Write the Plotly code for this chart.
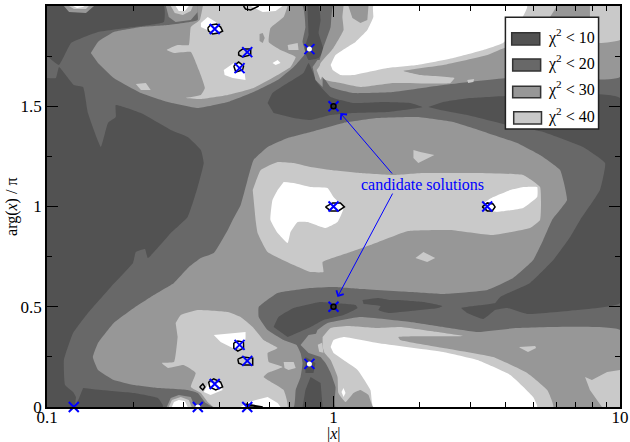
import plotly.graph_objects as go

# every contour polygon: (log10|x|, arg(x)/pi)
C_LT10 = "#525252"
C_LT20 = "#686868"
C_LT30 = "#979797"
C_LT40 = "#c9c9c9"
C_GT40 = "#ffffff"

band_lt10 = [
 [(-1,2),(-.592,2),(-.592,1.92),(-.697,1.895),(-.822,1.87),(-.916,1.815),(-.958,1.706),(-1,1.751)],
 [(-1,1.641),(-.969,1.641),(-.958,1.696),(-.906,1.606),(-.874,1.596),(-.857,1.466),(-.812,1.297),(-.787,1.417),(-.76,1.446),(-.76,1.506),(-.672,1.466),(-.568,1.382),(-.509,1.347),(-.463,1.282),(-.453,1.217),(-.474,1.097),(-.509,.948),(-.568,.868),(-.648,.743),(-.658,.788),(-.69,.773),(-.7,.718),(-.777,.599),(-.857,.469),(-.909,.369),(-.941,.234),(-.937,.11),(-.909,.075),(-.899,.05),(-.906,0),(-1,0)],
 [(-.874,.095),(-.812,.085),(-.697,.07),(-.613,.045),(-.596,.01),(-.596,0),(-.899,0),(-.888,.045)],
 [(-.091,2),(-.052,2),(-.045,1.93),(-.052,1.865),(-.035,1.781),(-.052,1.741),(-.087,1.731),(-.101,1.781),(-.087,1.855)],
 [(.331,1.496),(.383,1.521),(.477,1.541),(1,1.541),(1,.519),(.85,.484),(.676,.464),(.606,.494),(.564,.484),(.523,.439),(.467,.469),(.446,.494),(.488,.504),(.564,.519),(.582,.549),(.686,.619),(.767,.733),(.826,.848),(.861,.933),(.93,1.082),(.948,1.217),(.871,1.297),(.732,1.372),(.606,1.407),(.467,1.456),(.373,1.481)],
 [(-.23,1.516),(-.213,1.566),(-.16,1.616),(-.105,1.666),(-.087,1.716),(-.056,1.616),(-.01,1.546),(.07,1.516),(.174,1.521),(.268,1.516),(.31,1.496),(.188,1.471),(.07,1.466),(-.01,1.456),(-.08,1.431),(-.139,1.441),(-.209,1.466)],
 [(-.209,.399),(-.192,.449),(-.139,.494),(-.045,.524),(0,.519),(.077,.509),(.084,.494),(.035,.459),(-.035,.434),(-.08,.399),(-.16,.349)],
 [(.101,.534),(.153,.544),(.199,.534),(.226,.534),(.314,.524),(.38,.504),(.366,.494),(.268,.479),(.192,.469),(.157,.484),(.164,.504),(.105,.514)],
 [(-.08,.15),(-.045,.12),(-.038,0),(-.108,0),(-.098,.085)],
 [(-.098,.249),(-.063,.219),(-.07,.17),(-.098,.17)],
]

band_lt30 = [
 [(-.847,1.766),(-.822,1.821),(-.767,1.87),(-.672,1.895),(-.578,1.905),(-.474,1.93),(-.474,2),(-.108,2),(-.098,1.895),(-.108,1.821),(-.098,1.766),(-.139,1.696),(-.195,1.631),(-.279,1.571),(-.369,1.521),(-.474,1.491),(-.578,1.521),(-.672,1.566),(-.767,1.641),(-.822,1.716)],
 [(-.352,.933),(-.324,1.007),(-.3,1.132),(-.279,1.232),(-.23,1.297),(-.16,1.342),(-.08,1.372),(.035,1.417),(.153,1.441),(.293,1.446),(.418,1.421),(.537,1.367),(.641,1.317),(.721,1.257),(.791,1.182),(.815,1.032),(.763,.933),(.732,.833),(.697,.733),(.627,.643),(.537,.584),(.383,.564),(.268,.574),(.094,.589),(0,.599),(-.08,.594),(-.195,.569),(-.261,.499),(-.261,.449),(-.23,.384),(-.174,.334),(-.129,.309),(-.115,.269),(-.108,.219),(-.115,.15),(-.132,.085),(-.139,0),(-.418,0),(-.446,.02),(-.474,.07),(-.509,.085),(-.613,.095),(-.697,.11),(-.767,.135),(-.822,.185),(-.84,.249),(-.822,.319),(-.767,.419),(-.697,.494),(-.627,.559),(-.557,.619),(-.505,.698),(-.463,.743),(-.418,.768),(-.369,.883)],
 [(-.056,.384),(-.021,.419),(.094,.449),(.268,.424),(.383,.399),(.502,.374),(.641,.394),(1,.384),(1,0),(.007,0),(.007,.1),(-.01,.17),(-.028,.219),(-.056,.269),(-.073,.319)],
 [(-.056,1.696),(-.01,1.596),(.07,1.566),(.209,1.571),(.383,1.606),(.606,1.641),(1,1.646),(1,2),(0,2),(-.01,1.895),(-.035,1.796)],
 [(-.115,.309),(-.087,.359),(-.045,.369),(-.035,.309),(-.045,.249),(-.087,.269)],
 [(-.073,1.696),(-.056,1.731),(-.038,1.731),(-.038,1.596),(-.063,1.631)],
 [(-.585,2),(-.575,1.945),(-.551,1.92),(-.498,1.93),(-.474,1.97),(-.474,2)],
 [(-.941,2),(-.923,1.97),(-.864,1.965),(-.836,2)],
 [(-.582,0),(-.568,.045),(-.54,.06),(-.498,.05),(-.484,0)],
]

band_lt40 = [
 [(-.456,2),(-.467,1.93),(-.498,1.895),(-.505,1.805),(-.544,1.805),(-.582,1.781),(-.557,1.766),(-.498,1.771),(-.47,1.681),(-.449,1.591),(-.463,1.556),(-.516,1.541),(-.463,1.536),(-.369,1.556),(-.279,1.591),(-.195,1.656),(-.15,1.696),(-.132,1.746),(-.185,1.781),(-.226,1.821),(-.22,1.89),(-.174,1.945),(-.16,2)],
 [(-.551,.419),(-.533,.459),(-.474,.484),(-.369,.474),(-.324,.449),(-.282,.399),(-.244,.334),(-.195,.294),(-.23,.269),(-.226,.224),(-.178,.2),(-.23,.17),(-.244,.15),(-.174,.085),(-.16,0),(-.418,0),(-.439,.025),(-.463,.07),(-.498,.1),(-.481,.17),(-.523,.209),(-.578,.195),(-.599,.219),(-.557,.224),(-.544,.349)],
 [(-.282,1.082),(-.254,1.182),(-.195,1.222),(-.139,1.217),(-.08,1.197),(-.01,1.182),(.094,1.167),(.209,1.157),(.314,1.167),(.502,1.167),(.662,1.157),(.721,1.097),(.721,.933),(.686,.893),(.554,.858),(.408,.883),(.261,.878),(.129,.808),(.049,.768),(-.038,.723),(-.035,.673),(-.08,.673),(-.139,.708),(-.23,.773),(-.265,.868),(-.272,.933)],
 [(.035,2),(.031,1.945),(.035,1.88),(0,1.791),(-.045,1.716),(-.052,1.671),(-.028,1.631),(.024,1.616),(.094,1.596),(.209,1.616),(.408,1.616),(.422,1.641),(.303,1.656),(.244,1.676),(.383,1.706),(.537,1.756),(.606,1.796),(.93,1.815),(1,1.831),(1,2)],
 [(-.038,.349),(-.01,.394),(.049,.404),(.153,.394),(.233,.399),(.362,.374),(.453,.354),(.226,.349),(.233,.334),(.383,.294),(.557,.249),(.676,.17),(.746,.085),(.767,0),(.139,0),(.122,.06),(.094,.085),(.07,.07),(.042,.025),(.017,.07),(.014,.15),(-.01,.234),(-.031,.269),(-.038,.299)],
 [(-.69,1.611),(-.655,1.616),(-.638,1.581),(-.672,1.581)],
 [(-.16,1.805),(-.125,1.815),(-.122,1.781),(-.157,1.781)],
 [(-.174,.224),(-.139,.224),(-.132,.195),(-.157,.185),(-.171,.195)],
 [(.279,1.282),(.303,1.272),(.352,1.257),(.296,1.217),(.279,1.242)],
 [(.286,.743),(.314,.773),(.355,.743),(.327,.723)],
 [(.467,1.631),(.491,1.636),(.488,1.621),(.47,1.616)],
 [(.648,.299),(.704,.304),(.707,.294),(.679,.274),(.652,.294)],
 [(.878,.15),(.902,.135),(.955,.175),(1,.185),(1,0),(.937,0),(.895,.085)],
 [(-.568,2),(-.554,1.965),(-.526,1.955),(-.498,1.975),(-.491,2)],
 [(-.923,2),(-.906,1.985),(-.864,1.985),(-.854,2)],
 [(-.575,0),(-.564,.035),(-.533,.05),(-.505,.035),(-.495,0)],
 [(-.059,1.681),(-.045,1.706),(-.038,1.656),(-.045,1.631)],
 [(-.055,.31),(-.04,.32),(-.035,.27),(-.05,.275)],
]

holes_lt30 = [
 [(-.258,1.86),(-.247,1.865),(-.24,1.84),(-.247,1.815),(-.258,1.825)],
 [(.052,2),(.066,1.94),(.094,1.915),(.118,1.93),(.122,2)],
 [(.78,2),(.895,2),(.895,1.945),(.756,1.945)],
]

band_gt40 = [
 [(-.174,1.122),(-.139,1.117),(-.08,1.097),(-.021,1.092),(0,1.047),(.035,.993),(.014,.923),(-.028,.893),(-.091,.923),(-.125,.923),(-.15,.873),(-.16,.818),(-.195,.868),(-.22,.933),(-.213,1.032),(-.195,1.082)],
 [(.523,1.017),(.557,1.047),(.617,1.082),(.662,1.097),(.711,1.097),(.711,1.047),(.662,.993),(.571,.973),(.537,.983)],
 [(-.01,1.706),(.007,1.756),(.049,1.796),(.077,1.821),(.118,1.88),(.139,1.945),(.139,2),(.676,2),(.627,1.865),(.592,1.816),(.523,1.781),(.418,1.741),(.293,1.706),(.188,1.691),(.07,1.656),(.024,1.656),(-.003,1.681)],
 [(-.01,.299),(0,.334),(.035,.349),(.153,.319),(.383,.274),(.502,.234),(.617,.16),(.697,.05),(.711,0),(.139,0),(.129,.085),(.084,.185),(.035,.234),(0,.269)],
 [(-.463,1.915),(-.439,1.945),(-.411,1.92),(-.387,1.88),(-.418,1.865),(-.463,1.895)],
 [(-.289,2),(-.247,1.97),(-.202,1.975),(-.178,2)],
 [(-.383,1.681),(-.348,1.716),(-.314,1.706),(-.307,1.631),(-.352,1.641),(-.38,1.656)],
 [(-.418,.359),(-.307,.374),(-.307,.344),(-.314,.294),(-.352,.294),(-.394,.324)],
 [(-.453,.075),(-.436,.12),(-.394,.12),(-.387,.085),(-.429,.06)],
 [(-.324,0),(-.296,.025),(-.23,.05),(-.195,.02),(-.185,0)],
 [(-.213,1.716),(-.195,1.731),(-.185,1.716),(-.202,1.706)],
 [(-.564,0),(-.557,.025),(-.54,.035),(-.519,.03),(-.509,0)],
 [(-.551,2),(-.54,1.975),(-.519,1.975),(-.505,2)],
 [(-.909,2),(-.895,1.99),(-.875,1.995),(-.868,2)],
 [(.028,.075),(.035,.095),(.042,.07),(.035,.05)],
]

closed_loops = [
 [(-.439,1.89),(-.429,1.905),(-.408,1.91),(-.394,1.895),(-.387,1.875),(-.401,1.865),(-.422,1.86),(-.436,1.875),(-.439,1.89)],
 [(-.331,1.771),(-.317,1.786),(-.289,1.786),(-.289,1.756),(-.317,1.746),(-.331,1.756),(-.331,1.771)],
 [(-.348,1.701),(-.331,1.721),(-.314,1.701),(-.317,1.681),(-.341,1.671),(-.348,1.701)],
 [(-.314,2),(-.307,1.985),(-.289,1.98),(-.265,1.995),(-.261,2)],
 [(-.348,.319),(-.334,.329),(-.314,.324),(-.314,.294),(-.334,.279),(-.348,.294),(-.348,.319)],
 [(-.334,.239),(-.317,.249),(-.282,.244),(-.282,.209),(-.314,.209),(-.331,.219),(-.334,.239)],
 [(-.436,.125),(-.418,.14),(-.394,.125),(-.387,.1),(-.411,.085),(-.432,.1),(-.436,.125)],
 [(-.467,.1),(-.456,.115),(-.449,.1),(-.456,.085),(-.467,.1)],
 [(-.307,.015),(-.261,.005),(-.247,0),(-.3,0),(-.307,.015)],
 [(-.028,.998),(-.003,1.018),(.024,1.018),(.038,.998),(.017,.978),(-.01,.978),(-.028,.998)],
 [(.519,.998),(.537,1.018),(.557,1.013),(.564,.998),(.554,.978),(.537,.978),(.519,.998)],
]

sol_x = [0.124, 0.336, 0.5, 0.385, 0.5, 0.47, 0.824, 1, 1, 3.44, 0.385, 0.5, 0.47, 0.824, 1]
sol_y = [0, 0, 0, 0.115, 0.23, 0.31, 0.215, 0.5, 1, 1, 1.885, 1.77, 1.69, 1.785, 1.5]
white_x = [0.824, 0.824, 0.336]
white_y = [0.215, 1.785, 0]
ring_x = [1, 1]
ring_y = [0.5, 1.5]

legend_labels = ["χ<sup>2</sup> &lt; 10", "χ<sup>2</sup> &lt; 20", "χ<sup>2</sup> &lt; 30", "χ<sup>2</sup> &lt; 40"]
legend_colors = [C_LT10, C_LT20, C_LT30, C_LT40]
x_ticks = [0.1, 1, 10]
x_tick_text = ["0.1", "1", "10"]
y_ticks = [0, 0.5, 1, 1.5, 2]
y_tick_text = ["0", "0.5", "1", "1.5", "2"]
x_minor = [m * d for d in (0.1, 1) for m in range(2, 10)]

FONT = "Liberation Serif"
fig = go.Figure()

def poly(points, color):
    line = dict(width=0, color=color)
    if len(points) >= 8:
        line.update(shape="spline", smoothing=0.35)
    fig.add_trace(go.Scatter(x=[10 ** p[0] for p in points], y=[p[1] for p in points],
                             mode="lines", fill="toself", fillcolor=color,
                             line=line, hoverinfo="skip", showlegend=False))

for pts in band_lt10:
    poly(pts, C_LT10)
for pts in band_lt30:
    poly(pts, C_LT30)
for pts in band_lt40:
    poly(pts, C_LT40)
for pts in holes_lt30:
    poly(pts, C_LT30)
for pts in band_gt40:
    poly(pts, C_GT40)
for pts in closed_loops:
    fig.add_trace(go.Scatter(x=[10 ** p[0] for p in pts], y=[p[1] for p in pts], mode="lines",
                             line=dict(color="black", width=1.5), hoverinfo="skip", showlegend=False))
fig.add_trace(go.Scatter(x=sol_x, y=sol_y, mode="markers", cliponaxis=False,
                         marker=dict(symbol="x-thin", size=10, line=dict(width=2, color="#0000ff")), showlegend=False))
fig.add_trace(go.Scatter(x=white_x, y=white_y, mode="markers", cliponaxis=False,
                         marker=dict(symbol="circle", size=5, color="white"), showlegend=False))
fig.add_trace(go.Scatter(x=ring_x, y=ring_y, mode="markers",
                         marker=dict(symbol="circle", size=5, color="#333333", line=dict(width=1.5, color="black")),
                         showlegend=False))

annotations = [
    dict(x=.310, y=1.112, xref="x", yref="y", text="candidate solutions", showarrow=False,
         font=dict(family=FONT, size=16, color="#0000ff")),
    dict(x=.024, y=1.466, ax=.209, ay=1.157, xref="x", yref="y", axref="x", ayref="y", text="",
         showarrow=True, arrowhead=4, arrowsize=1.6, arrowwidth=1, arrowcolor="#0000ff"),
    dict(x=.014, y=.549, ax=.209, ay=1.072, xref="x", yref="y", axref="x", ayref="y", text="",
         showarrow=True, arrowhead=4, arrowsize=1.6, arrowwidth=1, arrowcolor="#0000ff"),
    dict(x=.5, y=-.0675, xref="paper", yref="paper", text="|<i>x</i>|", showarrow=False, yanchor="middle",
         font=dict(family=FONT, size=16, color="black")),
    dict(x=-.062, y=.5, xref="paper", yref="paper", text="arg(<i>x</i>) / π", showarrow=False, textangle=-90,
         xanchor="center", yanchor="middle", font=dict(family=FONT, size=16, color="black")),
]
shapes = [dict(type="rect", xref="paper", yref="paper", x0=.800, x1=.9626, y0=.693, y1=.972,
               fillcolor="white", line=dict(color="#222222", width=1.5), layer="above")]
sw_x = [(.811, .860), (.8127, .8615), (.8127, .8615), (.8145, .863)]
sw_y = [(.903, .933), (.838, .868), (.771, .800), (.706, .736)]
text_y = [.925, .860, .795, .728]
for label, col, sx, sy, ty in zip(legend_labels, legend_colors, sw_x, sw_y, text_y):
    shapes.append(dict(type="rect", xref="paper", yref="paper", x0=sx[0], x1=sx[1], y0=sy[0], y1=sy[1],
                       fillcolor=col, line=dict(color="#333333", width=1.5), layer="above"))
    annotations.append(dict(x=.870, y=ty, xref="paper", yref="paper", xanchor="left", yanchor="middle",
                            text=label, showarrow=False, font=dict(family=FONT, size=16, color="black")))

axis = dict(showgrid=False, zeroline=False, showline=True, linecolor="black", linewidth=1.5, mirror="ticks",
            ticks="inside", ticklen=11, tickwidth=1, tickcolor="black", automargin=False,
            tickfont=dict(family=FONT, size=17, color="black"))
fig.update_layout(
    width=630, height=442, autosize=False, showlegend=False,
    margin=dict(l=46.5, r=9.5, t=6, b=35, autoexpand=False),
    paper_bgcolor="white", plot_bgcolor=C_LT20,
    font=dict(family=FONT, color="black"),
    annotations=annotations, shapes=shapes,
    xaxis=dict(axis, type="log", range=[-1, 1], tickmode="array", tickvals=x_ticks, ticktext=x_tick_text,
               ticklabelstandoff=-6,
               minor=dict(ticks="inside", ticklen=5, tickwidth=1, tickcolor="black", tickmode="array", tickvals=x_minor)),
    yaxis=dict(axis, range=[0, 2], tickmode="array", tickvals=y_ticks, ticktext=y_tick_text,
               minor=dict(ticks="inside", ticklen=5, tickwidth=1, tickcolor="black", tickmode="array", tickvals=[.25, .75, 1.25, 1.75])),
)
fig.write_html("out.html", config={"displayModeBar": False},
               post_script="document.body.style.margin='0';document.body.style.overflow='hidden';")
